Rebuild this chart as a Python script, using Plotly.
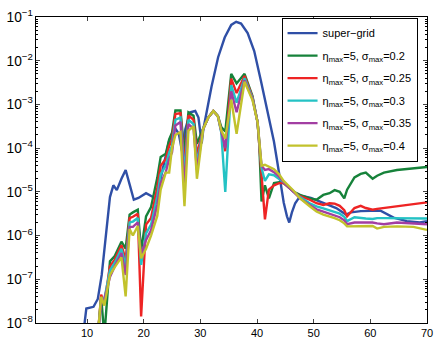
import plotly.graph_objects as go

# ---- data (log10 of the plotted values) ----
x_col = [11.9, 12.5, 13.06, 14.05, 14.9, 16.08, 16.82, 17.52, 18.1, 18.96, 19.55, 20.42,
         21.3, 22.4, 23.0, 23.9, 24.5, 25.0, 25.6, 26.5, 27.2, 27.9, 28.8, 29.4, 30.5,
         31.4, 32.3, 33.1, 33.7, 34.4, 35.45, 36.4, 37.8, 39.2, 40.1, 40.4, 40.8, 41.4,
         42.1, 43.0, 43.9, 44.7, 46.5, 47.6, 49.3, 50.5, 51.7, 52.8, 53.7, 54.6, 55.4,
         55.9, 57.2, 58.3, 59.2, 60.4, 61.2, 62.4, 64.7, 67.6, 70.0]

green_log10 = [-8.3, -7.4, -8.3, -6.59, -6.47, -6.14, -6.3, -5.52, -5.47, -5.41, -6.35, -5.56,
               -5.35, -4.68, -4.2, -4.13, -3.8, -3.65, -3.14, -3.14, -4.15, -3.18, -3.26, -3.9, -3.55,
               -3.3, -3.15, -3.26, -3.52, -3.62, -2.3, -2.52, -2.3, -2.81, -3.41, -3.92, -5.22, -4.85,
               -5.15, -4.8, -4.78, -4.8, -5.0, -5.07, -5.15, -5.18, -5.07, -5.03, -4.96, -5.0, -5.15,
               -4.95, -4.67, -4.59, -4.56, -4.7, -4.63, -4.56, -4.5, -4.47, -4.43]

red_log10 = [-8.3, -7.35, -7.55, -6.7, -6.55, -6.22, -6.55, -5.6, -5.57, -5.5, -7.85, -5.75,
             -5.6, -4.9, -4.4, -4.25, -3.95, -3.8, -3.22, -3.2, -4.4, -3.25, -3.35, -4.15, -3.56,
             -3.3, -3.15, -3.27, -3.6, -4.07, -2.41, -2.74, -2.35, -2.83, -3.41, -3.92, -4.6, -5.63,
             -4.95, -4.85, -4.8, -4.8, -5.0, -5.1, -5.18, -5.26, -5.3, -5.26, -5.27, -5.32, -5.42,
             -5.56, -5.37, -5.32, -5.37, -5.41, -5.39, -5.37, -5.32, -5.28, -5.24]

cyan_log10 = [-8.3, -7.45, -7.45, -6.8, -6.62, -6.3, -6.7, -5.7, -5.68, -5.6, -6.67, -5.95,
              -5.75, -5.1, -4.6, -4.4, -4.1, -3.95, -3.35, -3.3, -4.6, -3.35, -3.45, -4.35, -3.56,
              -3.3, -3.15, -3.27, -3.65, -5.0, -2.56, -2.96, -2.4, -2.85, -3.41, -3.92, -4.45, -4.75,
              -4.6, -4.62, -4.7, -4.78, -5.0, -5.12, -5.26, -5.33, -5.38, -5.42, -5.45, -5.5, -5.57,
              -5.67, -5.58, -5.6, -5.61, -5.62, -5.6, -5.6, -5.6, -5.6, -5.61]

purple_log10 = [-8.3, -7.55, -7.45, -6.95, -6.7, -6.4, -6.9, -5.8, -5.8, -5.7, -6.45, -6.1,
                -5.88, -5.3, -4.8, -4.55, -4.25, -4.1, -3.48, -3.4, -4.9, -3.45, -3.55, -4.5, -3.56,
                -3.3, -3.15, -3.27, -3.62, -4.0, -2.7, -3.18, -2.45, -2.87, -3.41, -3.92, -4.4, -4.5,
                -4.48, -4.55, -4.65, -4.78, -5.0, -5.15, -5.3, -5.4, -5.45, -5.5, -5.53, -5.58, -5.65,
                -5.74, -5.7, -5.7, -5.69, -5.7, -5.72, -5.74, -5.7, -5.72, -5.74]

yellow_log10 = [-8.3, -7.4, -7.6, -6.9, -6.72, -6.5, -7.39, -5.85, -6.0, -5.78, -6.52, -6.3,
                -6.0, -5.55, -4.95, -4.56, -4.56, -4.0, -3.7, -3.63, -5.33, -3.6, -3.5, -4.7, -3.56,
                -3.3, -3.15, -3.27, -3.6, -3.78, -2.89, -3.67, -2.48, -2.9, -3.41, -3.92, -4.4, -4.38,
                -4.42, -4.48, -4.6, -4.75, -4.98, -5.15, -5.33, -5.45, -5.52, -5.56, -5.6, -5.65, -5.72,
                -5.79, -5.79, -5.79, -5.78, -5.78, -5.84, -5.8, -5.79, -5.8, -5.87]

blue_x = [9.3, 9.88, 11.15, 11.91, 12.6, 13.47, 14.05, 14.65, 15.26, 16.08, 16.82, 17.52,
          18.26, 19.08, 20.42, 21.56, 22.2, 23.3, 24.46, 25.03, 25.63, 26.2, 26.77, 27.36,
          28.23, 29.1, 29.67, 30.24, 30.54, 31.98, 33.14, 34.3, 35.45, 36.32, 37.19, 38.35,
          39.51, 40.66, 41.82, 42.99, 43.56, 44.13, 44.72, 45.29, 45.69, 46.16, 46.74, 47.33,
          48.19, 49.5, 51.67, 53.98, 55.71, 56.58, 58.32, 61.79, 64.1, 66.42, 68.73, 70.0]
blue_log10 = [-8.3, -7.67, -7.63, -7.45, -6.9, -5.92, -5.12, -4.85, -4.96, -4.7, -4.5, -4.83,
              -5.18, -5.14, -5.03, -5.11, -5.18, -4.52, -3.85, -3.67, -3.56, -3.67, -4.07, -3.56,
              -3.18, -3.15, -3.3, -3.89, -3.56, -2.59, -1.92, -1.47, -1.18, -1.11, -1.15, -1.37,
              -1.78, -2.44, -3.11, -3.85, -4.3, -4.74, -5.25, -5.56, -5.7, -5.47, -5.26, -5.15,
              -5.1, -5.14, -5.25, -5.37, -5.52, -5.47, -5.44, -5.43, -5.59, -5.67, -5.7, -5.67]

names = ["super\u2212grid",
         "\u03b7<sub>max</sub>=5, \u03c3<sub>max</sub>=0.2",
         "\u03b7<sub>max</sub>=5, \u03c3<sub>max</sub>=0.25",
         "\u03b7<sub>max</sub>=5, \u03c3<sub>max</sub>=0.3",
         "\u03b7<sub>max</sub>=5, \u03c3<sub>max</sub>=0.35",
         "\u03b7<sub>max</sub>=5, \u03c3<sub>max</sub>=0.4"]
colors = ["#2f4fa6", "#16823a", "#ee2424", "#24c2c4", "#a23ea2", "#c2c22c"]

x_ticks = [10, 20, 30, 40, 50, 60, 70]

series = [(blue_x, blue_log10), (x_col, green_log10), (x_col, red_log10),
          (x_col, cyan_log10), (x_col, purple_log10), (x_col, yellow_log10)]

fig = go.Figure()
for i, ((xs, ys), nm, c) in enumerate(zip(series, names, colors)):
    fig.add_trace(go.Scatter(x=xs, y=[10 ** v for v in ys], mode="lines", name=nm,
                             legendgroup=str(i),
                             line=dict(color=c, width=2.4)))

font = dict(family="Liberation Sans, Arial, sans-serif", size=11, color="black")
fig.update_layout(
    width=440, height=346,
    margin=dict(l=35, r=7, t=12, b=19),
    paper_bgcolor="white", plot_bgcolor="white",
    font=font,
    showlegend=True,
    legend=dict(x=0.628, y=0.998, xanchor="left", yanchor="top",
                bgcolor="white", bordercolor="black", borderwidth=1,
                font=dict(family="Liberation Sans, Arial, sans-serif", size=11, color="black"),
                tracegroupgap=3.5, itemwidth=30),
    xaxis=dict(range=[1, 70], tickvals=x_ticks, ticks="inside", ticklen=4,
               showline=True, linecolor="black", linewidth=1, mirror="ticks",
               showgrid=False, zeroline=False, tickfont=font),
    yaxis=dict(type="log", range=[-8, -1], dtick=1, exponentformat="power",
               ticks="inside", ticklen=4,
               showline=True, linecolor="black", linewidth=1, mirror="ticks",
               showgrid=False, zeroline=False, tickfont=font,
               minor=dict(ticks="inside", ticklen=2, dtick="D1", tickcolor="black", showgrid=False)),
)
fig.write_html("out.html")
